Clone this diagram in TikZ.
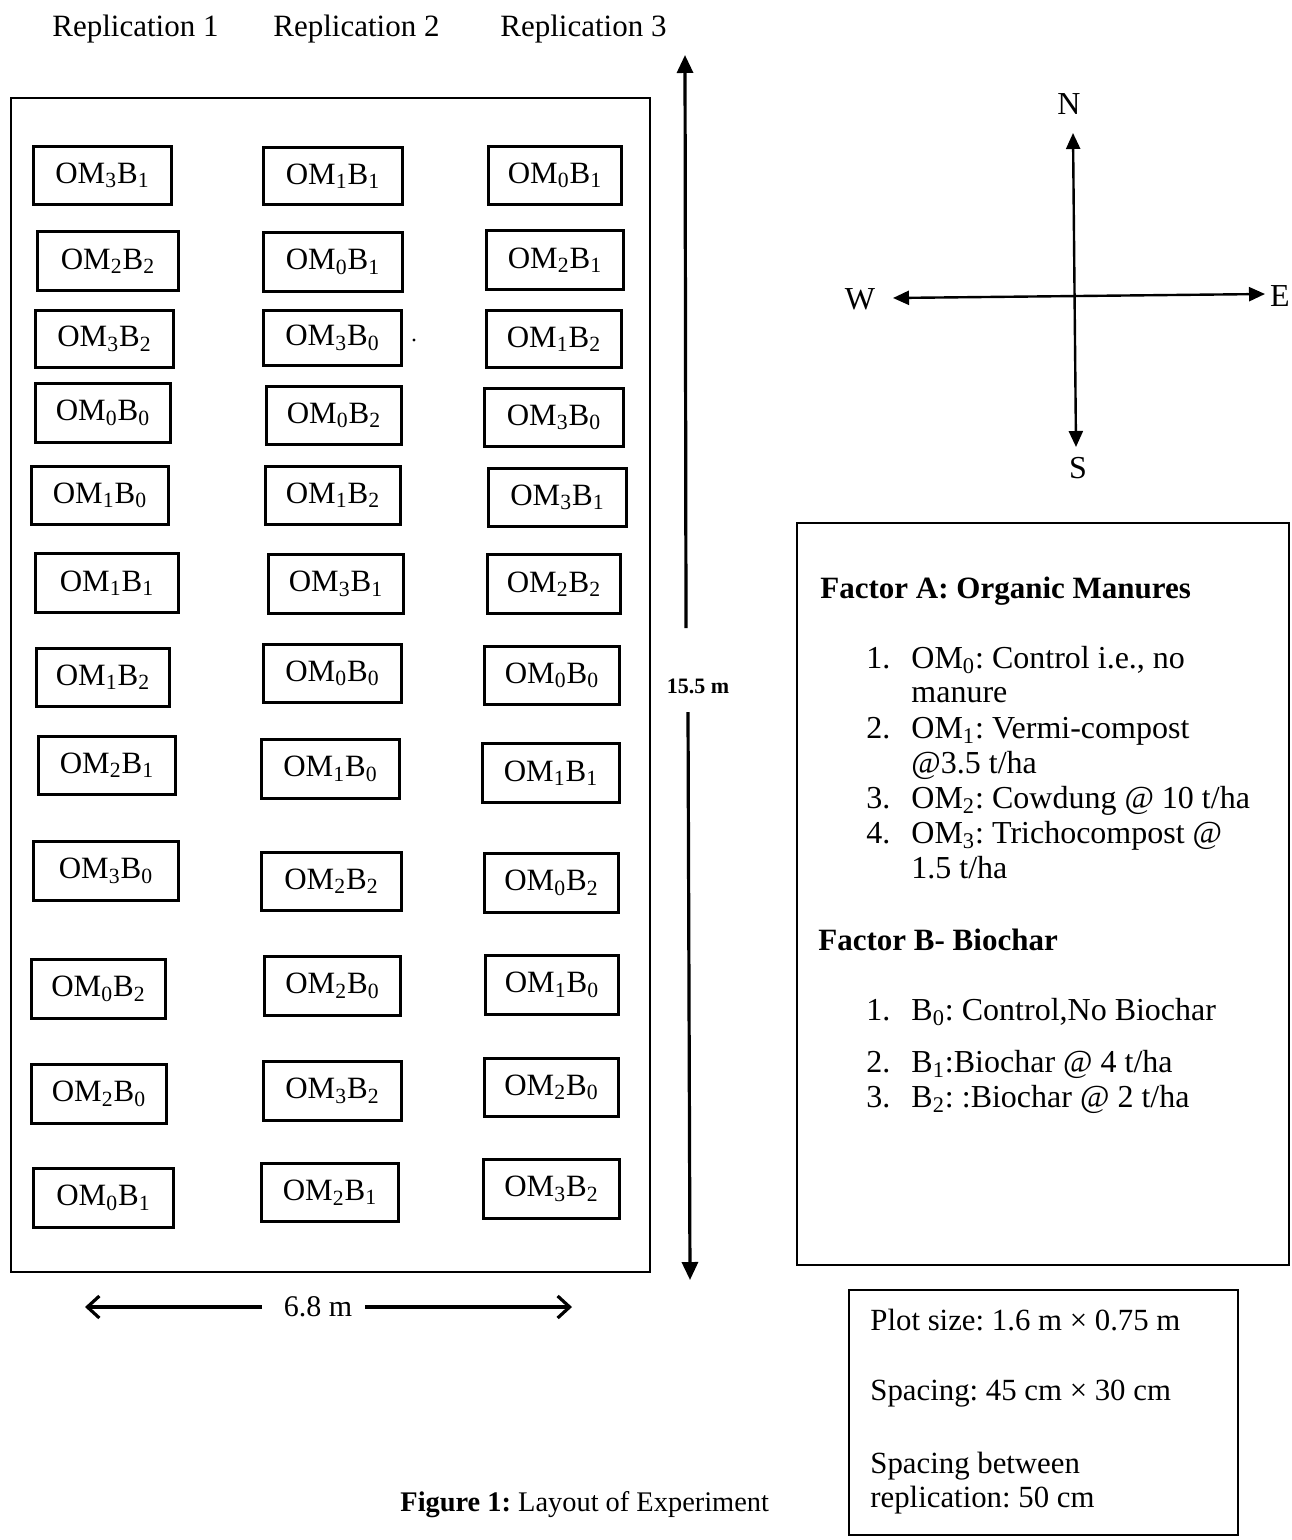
\documentclass[tikz,border=0pt]{standalone}
\usepackage{fontspec}
\setmainfont{Liberation Serif}
\usetikzlibrary{arrows.meta}
\frenchspacing
\newcommand\plotlab[2]{OM\textsubscript{#1}B\textsubscript{#2}}
\newcommand\pbox[7]{\node[plotbox,minimum width={(#4-3)*0.5pt},minimum height={(#5-3)*0.5pt}] (#1) at (#2,#3) {\plotlab{#6}{#7}};}
\tikzset{
  plotbox/.style={draw, line width=1.8pt, inner sep=0pt, font=\fontsize{15.5}{18}\selectfont},
  framebox/.style={draw, line width=1pt, inner sep=0pt},
  txt/.style={inner sep=0pt, anchor=base west, font=\fontsize{16}{19}\selectfont},
  itxt/.style={inner sep=0pt, anchor=base west, font=\fontsize{15.4}{18}\selectfont},
  hdr/.style={inner sep=0pt, anchor=base west, font=\fontsize{15.5}{18}\selectfont},
  captxt/.style={inner sep=0pt, anchor=base west, font=\fontsize{14.2}{17}\selectfont},
  bhdr/.style={inner sep=0pt, anchor=base west, font=\fontsize{15.5}{18}\selectfont\bfseries},
  dir/.style={inner sep=0pt, font=\fontsize{16}{19}\selectfont},
  dimline/.style={line width=1.6pt},
  compass/.style={line width=1.2pt, {Triangle[length=8pt,width=7pt]}-{Triangle[length=8pt,width=7pt]}}
}
\begin{document}
\begin{tikzpicture}[x=0.5pt,y=-0.5pt]
\useasboundingbox (0,0) rectangle (1291,1540);

% headers
\node[hdr] (r1) at (52,37) {Replication 1};
\node[hdr] (r2) at (273,37) {Replication 2};
\node[hdr] (r3) at (500,37) {Replication 3};

% field
\node[framebox, minimum width={639*0.5pt}, minimum height={1174*0.5pt}] (field) at (330.5,685) {};

% plots
\pbox{a1}{102.5}{175.5}{141}{61}{3}{1}
\pbox{b1}{333}{176}{142}{60}{1}{1}
\pbox{c1}{555}{175.5}{136}{61}{0}{1}
\pbox{a2}{108}{261}{144}{62}{2}{2}
\pbox{b2}{333}{262}{142}{62}{0}{1}
\pbox{c2}{555}{260}{140}{62}{2}{1}
\pbox{a3}{104.5}{339}{141}{60}{3}{2}
\pbox{b3}{332.5}{338}{141}{58}{3}{0}
\pbox{c3}{554}{339}{138}{60}{1}{2}
\pbox{a4}{103}{413}{138}{62}{0}{0}
\pbox{b4}{334}{415.5}{138}{61}{0}{2}
\pbox{c4}{554}{417.5}{142}{61}{3}{0}
\pbox{a5}{100}{495.5}{140}{61}{1}{0}
\pbox{b5}{333}{495.5}{138}{61}{1}{2}
\pbox{c5}{557.5}{497.5}{141}{61}{3}{1}
\pbox{a6}{107}{583}{146}{62}{1}{1}
\pbox{b6}{336}{584}{138}{62}{3}{1}
\pbox{c6}{554}{584}{136}{62}{2}{2}
\pbox{a7}{103}{677.5}{136}{61}{1}{2}
\pbox{b7}{332.5}{673.5}{141}{61}{0}{0}
\pbox{c7}{552}{675.5}{138}{61}{0}{0}
\pbox{a8}{107}{765.5}{140}{61}{2}{1}
\pbox{b8}{330.5}{769}{141}{62}{1}{0}
\pbox{c8}{551}{773}{140}{62}{1}{1}
\pbox{a9}{106}{871}{148}{62}{3}{0}
\pbox{b9}{331.5}{881.5}{143}{61}{2}{2}
\pbox{c9}{551.5}{883}{137}{62}{0}{2}
\pbox{a10}{98.5}{989}{137}{62}{0}{2}
\pbox{b10}{332.5}{986}{139}{62}{2}{0}
\pbox{c10}{552}{985}{136}{62}{1}{0}
\pbox{a11}{99}{1094}{138}{62}{2}{0}
\pbox{b11}{332.5}{1091}{141}{62}{3}{2}
\pbox{c11}{551.5}{1087.5}{137}{61}{2}{0}
\pbox{a12}{103.5}{1198}{143}{62}{0}{1}
\pbox{b12}{330}{1192.5}{140}{61}{2}{1}
\pbox{c12}{551.5}{1189}{139}{62}{3}{2}
\fill (414,340) circle[radius=0.8pt];

% vertical dimension
\coordinate (vtop) at (685,55);
\coordinate (vt1) at (686,628);
\coordinate (vb1) at (688,712);
\coordinate (vbot) at (690,1280);
\node[inner sep=0pt, font=\fontsize{11}{13}\selectfont\bfseries] (vlab) at (698,686) {15.5 m};
\draw[dimline, -{Triangle[length=9pt,width=8pt]}] (vt1) -- (vtop);
\draw[dimline, -{Triangle[length=9pt,width=8pt]}] (vb1) -- (vbot);

% horizontal dimension
\coordinate (hl) at (85,1307);
\coordinate (hl1) at (262,1307);
\coordinate (hr1) at (365,1307);
\coordinate (hr) at (572,1307);
\node[inner sep=0pt, font=\fontsize{15}{18}\selectfont] (hlab) at (318,1307) {6.8 m};
\draw[dimline, -{Straight Barb[length=6pt,width=11pt]}] (hl1) -- (hl);
\draw[dimline, -{Straight Barb[length=6pt,width=11pt]}] (hr1) -- (hr);

% compass
\coordinate (cN) at (1073,133);
\coordinate (cS) at (1076,447);
\coordinate (cW) at (893,298);
\coordinate (cE) at (1265,294);
\draw[compass] (cS) -- (cN);
\draw[compass] (cW) -- (cE);
\node[dir] (nN) at (1069,104) {N};
\node[dir] (nS) at (1078,468) {S};
\node[dir] (nW) at (860,299) {W};
\node[dir] (nE) at (1280,296) {E};

% legend
\node[framebox, minimum width={492*0.5pt}, minimum height={742*0.5pt}] (legend) at (1043,894) {};
\node[bhdr] (fa) at (820,598) {Factor A: Organic Manures};
\node[txt] (fa1n) at (866,668) {1.};
\node[txt] (fa1) at (911,668) {OM\textsubscript{0}: Control i.e., no};
\node[txt] (fa1b) at (911,702) {manure};
\node[txt] (fa2n) at (866,738) {2.};
\node[txt] (fa2) at (911,738) {OM\textsubscript{1}: Vermi-compost};
\node[txt] (fa2b) at (911,773) {@3.5 t/ha};
\node[txt] (fa3n) at (866,808) {3.};
\node[txt] (fa3) at (911,808) {OM\textsubscript{2}: Cowdung @ 10 t/ha};
\node[txt] (fa4n) at (866,843) {4.};
\node[txt] (fa4) at (911,843) {OM\textsubscript{3}: Trichocompost @};
\node[txt] (fa4b) at (911,878) {1.5 t/ha};
\node[bhdr] (fb) at (818,950) {Factor B- Biochar};
\node[txt] (fb1n) at (866,1020) {1.};
\node[txt] (fb1) at (911,1020) {B\textsubscript{0}: Control,No Biochar};
\node[txt] (fb2n) at (866,1072) {2.};
\node[txt] (fb2) at (911,1072) {B\textsubscript{1}:Biochar @ 4 t/ha};
\node[txt] (fb3n) at (866,1107) {3.};
\node[txt] (fb3) at (911,1107) {B\textsubscript{2}: :Biochar @ 2 t/ha};

% plot info
\node[framebox, minimum width={389*0.5pt}, minimum height={245*0.5pt}] (info) at (1043.5,1412.5) {};
\node[itxt] (i1) at (870,1330) {Plot size: 1.6 m × 0.75 m};
\node[itxt] (i2) at (870,1400) {Spacing: 45 cm × 30 cm};
\node[itxt] (i3) at (870,1473) {Spacing between};
\node[itxt] (i4) at (870,1507) {replication: 50 cm};

% caption
\node[captxt] (cap) at (400,1511) {\textbf{Figure 1:} Layout of Experiment};
\end{tikzpicture}
\end{document}
